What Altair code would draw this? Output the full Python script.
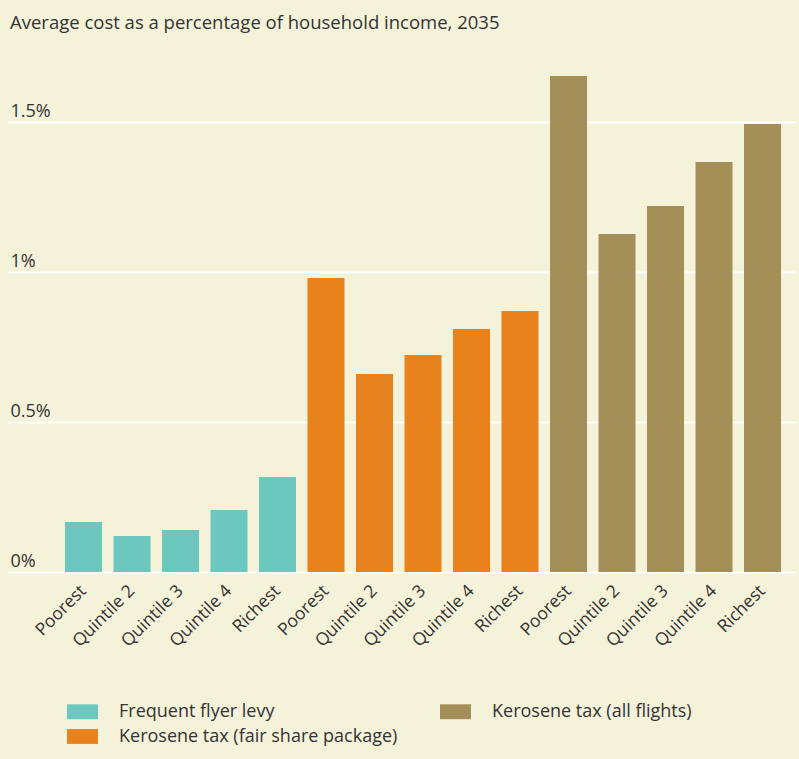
import altair as alt
import pandas as pd

# ---- data ----
groups = ["Frequent flyer levy", "Kerosene tax (fair share package)", "Kerosene tax (all flights)"]
quintiles = ["Poorest", "Quintile 2", "Quintile 3", "Quintile 4", "Richest"]
frequent_flyer = [0.167, 0.120, 0.140, 0.207, 0.317]
fair_share = [0.980, 0.660, 0.723, 0.810, 0.870]
all_flights = [1.653, 1.127, 1.220, 1.367, 1.493]
y_ticks = [0, 0.5, 1, 1.5]
colors = ["#6cc8be", "#e8821c", "#a58f58"]

rows = []
for g, vals in zip(groups, [frequent_flyer, fair_share, all_flights]):
    for q, v in zip(quintiles, vals):
        rows.append({"key": f"{g}|{q}", "group": g, "quintile": q, "value": v})
df = pd.DataFrame(rows)
order = list(df["key"])

FONT = "Open Sans"
TXT = "#333333"
BG = "#f5f2da"

chart = alt.Chart(df).mark_bar().encode(
    x=alt.X("key:N", sort=order,
            scale=alt.Scale(paddingInner=0.237, paddingOuter=0.742, align=0.792),
            axis=alt.Axis(title=None, labelExpr="split(datum.label, '|')[1]",
                          labelAngle=-45, labelAlign="right", labelBaseline="middle",
                          labelPadding=16, ticks=False, domain=False, grid=False,
                          labelFont=FONT, labelFontSize=17.5, labelColor=TXT)),
    y=alt.Y("value:Q",
            scale=alt.Scale(domain=[0, 532 / 300], nice=False, zero=True),
            axis=alt.Axis(title=None, values=y_ticks, labelExpr="datum.value + '%'",
                          orient="left", labelAlign="left", labelBaseline="alphabetic",
                          labelPadding=-2, labelOffset=-6, ticks=False, tickSize=0,
                          domain=False, grid=True, gridColor="white", gridWidth=2,
                          labelFont=FONT, labelFontSize=18, labelColor=TXT)),
    color=alt.Color("group:N",
                    scale=alt.Scale(domain=groups, range=colors),
                    legend=alt.Legend(title=None, orient="none", legendX=59, legendY=656,
                                      columns=2, columnPadding=42, rowPadding=0,
                                      symbolType="M-1,-0.48H1V0.48H-1Z", symbolSize=961,
                                      symbolStrokeWidth=0, labelOffset=21, labelLimit=500,
                                      labelFont=FONT, labelFontSize=18, labelColor=TXT,
                                      padding=0)),
).properties(
    width=788, height=532,
    title=alt.TitleParams("Average cost as a percentage of household income, 2035",
                          anchor="start", frame="group", dx=2, dy=22, offset=15,
                          baseline="alphabetic",
                          font=FONT, fontSize=18.5, fontWeight="normal", color=TXT),
    background=BG,
    padding={"left": 8, "top": 40, "right": 3, "bottom": 187},
    autosize=alt.AutoSizeParams(type="none"),
).configure_view(stroke=None)

chart.save("out.html", embed_options={"renderer": "svg", "actions": False})
